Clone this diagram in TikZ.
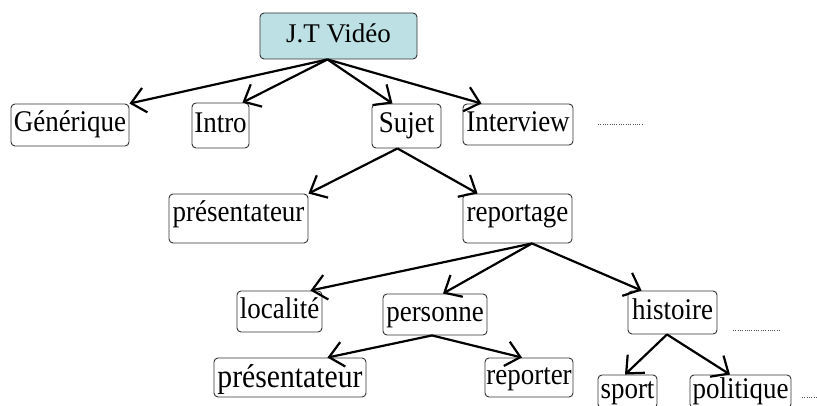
\documentclass[tikz,border=0pt]{standalone}
\usepackage{fontspec}
\setmainfont{Liberation Serif}
\newfontfamily\narrowfont{Liberation Serif}[FakeStretch=0.9]
\usetikzlibrary{arrows.meta}

\begin{document}
\begin{tikzpicture}[x=1pt, y=-1pt,
    box/.style={draw=borderColour, line width=0.9pt, rounded corners=4pt, inner sep=1pt,
        text height=20pt, text depth=6.5pt, font=\narrowfont\fontsize{30}{33}\selectfont},
    link/.style={-{Straight Barb[length=14pt, width=25pt]}, line width=2.2pt},
    more/.style={draw=dotColour, line width=1pt, dash pattern=on 1pt off 1.3pt}]

    \definecolor{borderColour}{HTML}{333333}
    \definecolor{fillColourJT}{HTML}{BCE0E4}
    \definecolor{dotColour}{HTML}{555555}

    \useasboundingbox (0,0) rectangle (817,406);
    \clip (0,0) rectangle (817,406);

    % Root
    \node[box, fill=fillColourJT, font=\fontsize{27}{30}\selectfont, text depth=6pt,
        minimum width=157pt, minimum height=46pt] (jt) at (338.5,36) {J.T Vidéo};

    % First level
    \node[box, minimum width=118pt, minimum height=42pt] (generique) at (70,125) {Générique};
    \node[box, minimum width=57pt, minimum height=45pt] (intro) at (220.5,125.5) {Intro};
    \node[box, minimum width=69pt, minimum height=44pt] (sujet) at (406.5,126) {Sujet};
    \node[box, minimum width=110pt, minimum height=41pt] (interview) at (518,124.5) {Interview};
    \coordinate (dotsA1) at (598,125);
    \coordinate (dotsA2) at (644,125);

    % Second level
    \node[box, text depth=13pt, minimum width=139pt, minimum height=49pt] (presA) at (238.5,218.5) {présentateur};
    \node[box, text depth=13pt, minimum width=109pt, minimum height=49pt] (reportage) at (517.5,218.5) {reportage};

    % Third level
    \node[box, minimum width=85pt, minimum height=41pt] (localite) at (279.5,311.5) {localité};
    \node[box, minimum width=104pt, minimum height=41pt] (personne) at (435,314.5) {personne};
    \node[box, minimum width=89pt, minimum height=43pt] (histoire) at (672.5,312.5) {histoire};
    \coordinate (dotsB1) at (733,330);
    \coordinate (dotsB2) at (780,330);

    % Fourth level
    \node[box, font=\narrowfont\fontsize{33}{36}\selectfont, text height=24pt, text depth=5pt,
        minimum width=152pt, minimum height=39pt] (presB) at (290,377.5) {présentateur};
    \node[box, minimum width=88pt, minimum height=39pt] (reporter) at (529,377.5) {reporter};
    \node[box, minimum width=59pt, minimum height=33pt] (sport) at (627.5,391.5) {sport};
    \node[box, minimum width=101pt, minimum height=33pt] (politique) at (740.5,391.5) {politique};
    \coordinate (dotsC1) at (802,397);
    \coordinate (dotsC2) at (817,397);

    % Dotted continuations
    \draw[more] (dotsA1) -- (dotsA2);
    \draw[more] (dotsB1) -- (dotsB2);
    \draw[more] (dotsC1) -- (dotsC2);

    % Arrows
    \draw[link] ([xshift=-11pt]jt.south) -- (generique.north east);
    \draw[link] ([xshift=-11pt]jt.south) -- ([xshift=-7pt]intro.north east);
    \draw[link] ([xshift=-11pt]jt.south) -- ([xshift=-14pt]sujet.north);
    \draw[link] ([xshift=-11pt]jt.south) -- ([xshift=19pt]interview.north west);

    \draw[link] ([xshift=-9pt]sujet.south) -- (presA.north east);
    \draw[link] ([xshift=-9pt]sujet.south) -- ([xshift=15pt]reportage.north west);

    \draw[link] ([xshift=14.5pt]reportage.south) -- ([xshift=-12pt]localite.north east);
    \draw[link] ([xshift=14.5pt]reportage.south) -- ([xshift=8pt]personne.north);
    \draw[link] ([xshift=14.5pt]reportage.south) -- ([xshift=14pt]histoire.north west);

    \draw[link] ([xshift=-3pt]personne.south) -- ([xshift=-39pt]presB.north east);
    \draw[link] ([xshift=-3pt]personne.south) -- ([xshift=-7pt]reporter.north);

    \draw[link] ([xshift=-5.5pt]histoire.south) -- ([xshift=-2.5pt]sport.north);
    \draw[link] ([xshift=-5.5pt]histoire.south) -- ([xshift=-10.5pt]politique.north);

\end{tikzpicture}
\end{document}
